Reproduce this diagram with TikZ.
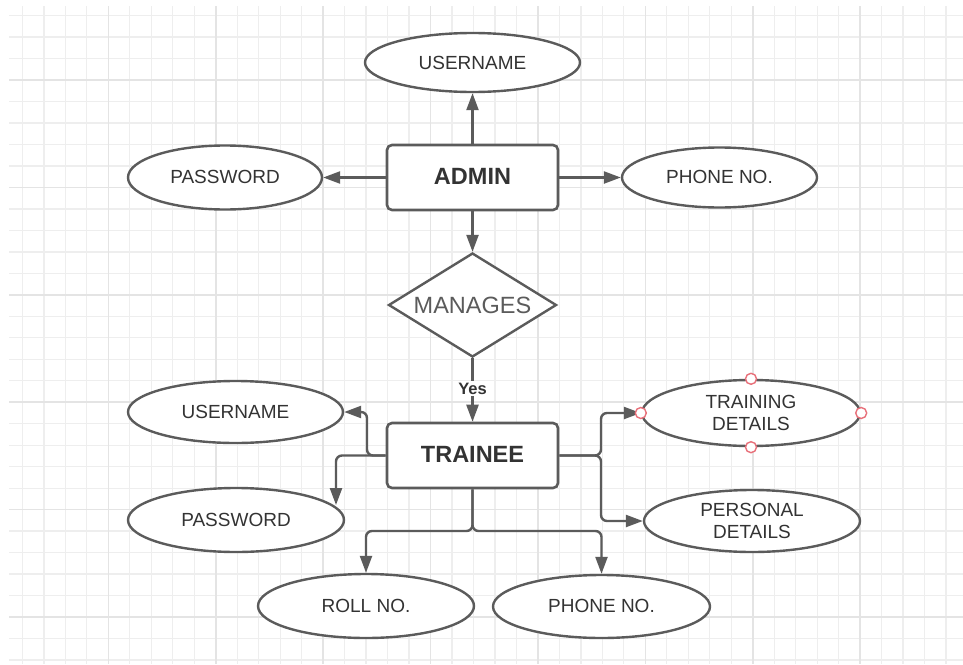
\documentclass[tikz,border=0pt]{standalone}
\usepackage{fontspec}
\setmainfont{Liberation Sans}
\usetikzlibrary{shapes.geometric,arrows.meta,calc}
\definecolor{lc}{HTML}{5B5B5B}
\definecolor{tc}{HTML}{333333}
\definecolor{gfine}{HTML}{EEEEEE}
\definecolor{gheavy}{HTML}{E4E4E4}
\definecolor{anch}{HTML}{E8707A}
\begin{document}
\begin{tikzpicture}[x=1pt,y=-1pt,
  attr/.style={ellipse,draw=lc,line width=2.4pt,fill=white,inner sep=0pt,text=tc,
    font=\fontsize{19}{22}\selectfont,align=center},
  ent/.style={rectangle,rounded corners=5pt,draw=lc,line width=2.6pt,fill=white,
    minimum width=171pt,minimum height=65pt,inner sep=0pt,text=tc,
    font=\fontsize{23.5}{27}\selectfont\bfseries},
  rel/.style={diamond,shape aspect=1.615,draw=lc,line width=2.4pt,fill=white,inner sep=0pt,
    minimum width=168pt,minimum height=104pt,text=lc,font=\fontsize{23.5}{27}\selectfont},
  arr/.style={draw=lc,line width=2.4pt,-{Triangle[length=17pt,width=12pt]}},
  rarr/.style={arr,rounded corners=6pt},
  anchorpt/.style={circle,draw=anch,line width=1.4pt,fill=white,inner sep=0pt,minimum size=11pt},
  gridfine/.style={draw=gfine,line width=1.3pt},
  gridheavy/.style={draw=gheavy,line width=1.6pt}]
\useasboundingbox (0,0) rectangle (963,664);
\fill[white] (0,0) rectangle (963,664);
% grid
\foreach \i in {0,...,43} {\pgfmathsetmacro\xx{22.4+21.48*\i}\draw[gridfine] (\xx,6) -- (\xx,664);}
\foreach \j in {0,...,30} {\pgfmathsetmacro\yy{15.6+21.48*\j}\draw[gridfine] (9,\yy) -- (963,\yy);}
\foreach \i in {0,...,7} {\pgfmathsetmacro\xx{108.3+107.4*\i}\draw[gridheavy] (\xx,6) -- (\xx,664);}
\foreach \j in {0,...,5} {\pgfmathsetmacro\yy{80+107.4*\j}\draw[gridheavy] (9,\yy) -- (963,\yy);}
% nodes
\node[attr,minimum width=215pt,minimum height=59pt] (u1) at (472.5,62.5) {USERNAME};
\node[ent] (adm) at (472.5,177.5) {\raisebox{3pt}{ADMIN}};
\node[attr,minimum width=194pt,minimum height=64pt] (pw1) at (225,177.5) {\raisebox{2pt}{PASSWORD}};
\node[attr,minimum width=195pt,minimum height=60pt] (ph1) at (719.5,177.5) {\raisebox{2pt}{PHONE NO.}};
\node[rel] (man) at (472.5,305) {MANAGES};
\node[ent] (tr) at (472.5,455.5) {\raisebox{3pt}{TRAINEE}};
\node[attr,minimum width=215pt,minimum height=62pt] (u2) at (235.5,412) {USERNAME};
\node[attr,minimum width=216pt,minimum height=64pt] (pw2) at (236,520) {\raisebox{1pt}{PASSWORD}};
\node[attr,minimum width=216pt,minimum height=64pt] (roll) at (366,606) {\raisebox{1pt}{ROLL NO.}};
\node[attr,minimum width=217pt,minimum height=63pt] (ph2) at (601.5,606.5) {\raisebox{2pt}{PHONE NO.}};
\node[attr,minimum width=218pt,minimum height=66pt] (td) at (751,413) {TRAINING\\DETAILS};
\node[attr,minimum width=216pt,minimum height=62pt] (pd) at (752,521) {PERSONAL\\DETAILS};
% junction coordinates
\coordinate (bj) at (472.5,531);
\coordinate (rj) at (601,455.5);
\coordinate (lu) at (367,412);
\coordinate (lp) at (336,505);
% connectors
\draw[arr] (adm.north) -- (u1.south);
\draw[arr] (adm.west) -- (pw1.east);
\draw[arr] (adm.east) -- (ph1.west);
\draw[arr] (adm.south) -- (man.north);
\draw[arr] (man.south) -- node[pos=0.48,fill=white,inner sep=2pt,text=tc,font=\fontsize{16.5}{19}\selectfont\bfseries] (yes) {Yes} (tr.north);
\draw[rarr] (tr.west) -| (lu) -- (u2.east);
\draw[rarr] (tr.west) -| (lp);
\draw[rarr] (tr.south) -- (bj) -| (roll.north);
\draw[rarr] (tr.south) -- (bj) -| (ph2.north);
\draw[rarr] (tr.east) -- (rj) |- (td.west);
\draw[rarr] (tr.east) -- (rj) |- (pd.west);
% anchor markers
\node[anchorpt] (a1) at (td.north) {};
\node[anchorpt] (a2) at (td.south) {};
\node[anchorpt] (a3) at (td.east) {};
\node[anchorpt] (a4) at (td.west) {};
\end{tikzpicture}
\end{document}
